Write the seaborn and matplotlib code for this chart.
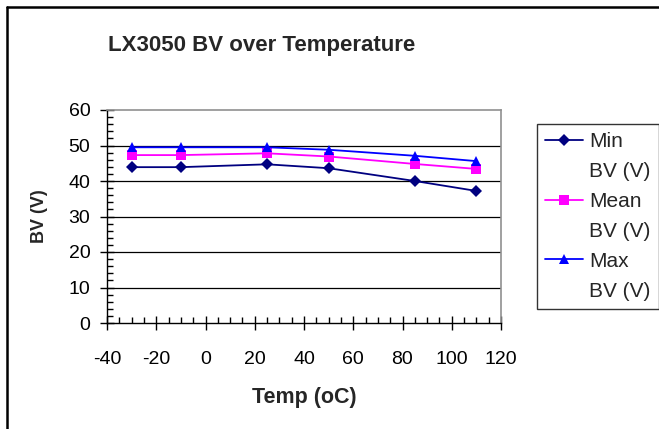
import matplotlib
matplotlib.use("Agg")
import matplotlib.pyplot as plt
import seaborn as sns
import pandas as pd
from matplotlib.lines import Line2D
from matplotlib.ticker import MultipleLocator

temps = [-30, -10, 25, 50, 85, 110]
min_bv = [43.9, 43.9, 44.7, 43.6, 40.0, 37.2]
mean_bv = [47.3, 47.3, 47.8, 46.9, 44.8, 43.4]
max_bv = [49.5, 49.5, 49.5, 48.8, 47.1, 45.6]
series_names = ["Min BV (V)", "Mean BV (V)", "Max BV (V)"]
colors = ["#000080", "#FF00FF", "#0000FF"]
markers = ["D", "s", "^"]

df = pd.concat([
    pd.DataFrame({"Temp": temps, "BV": vals, "Series": name})
    for name, vals in zip(series_names, [min_bv, mean_bv, max_bv])
])

sns.set_theme(style="white")
plt.rcParams["font.family"] = ["Liberation Sans", "DejaVu Sans"]
plt.rcParams["axes.unicode_minus"] = False

fig = plt.figure(figsize=(6.59, 4.29), dpi=100)
ax = fig.add_axes([107/659, 1 - 323/429, (501 - 107)/659, (323 - 110)/429])

sns.lineplot(data=df, x="Temp", y="BV", hue="Series", style="Series",
             palette=dict(zip(series_names, colors)),
             markers=dict(zip(series_names, markers)),
             dashes=False, ax=ax, linewidth=1.3, markersize=6.5,
             markeredgewidth=0, legend=False)

ax.set_xlim(-40, 120)
ax.set_ylim(0, 60)
ax.xaxis.set_major_locator(MultipleLocator(20))
ax.xaxis.set_minor_locator(MultipleLocator(5))
ax.yaxis.set_major_locator(MultipleLocator(10))
ax.yaxis.set_minor_locator(MultipleLocator(2))
ax.tick_params(axis="both", which="major", direction="inout", length=10,
               width=1, color="black", labelsize=14, labelcolor="black")
ax.tick_params(axis="x", which="major", pad=15)
ax.tick_params(axis="y", which="major", pad=7)
ax.tick_params(axis="both", which="minor", direction="in", length=4.5,
               width=1, color="black")
ax.tick_params(axis="x", which="both", bottom=True)
ax.tick_params(axis="y", which="both", left=True)
for v in range(10, 60, 10):
    ax.axhline(v, color="black", linewidth=0.9, zorder=0)

for side in ["left", "bottom"]:
    ax.spines[side].set_color("black")
    ax.spines[side].set_linewidth(1.0)
for side in ["top", "right"]:
    ax.spines[side].set_color("#909090")
    ax.spines[side].set_linewidth(1.2)

ax.set_xlabel("Temp (oC)", fontsize=15.5, fontweight="bold", labelpad=14)
ax.set_ylabel("BV (V)", fontsize=13, fontweight="bold", labelpad=15)

fig.text(0.5 * (110 + 413) / 659, 1 - 45/429, "LX3050 BV over Temperature",
         ha="center", va="center", fontsize=16, fontweight="bold")

# legend: each series label wraps onto two lines, handle on the first line
handles, labels = [], []
for c, m, name in zip(colors, markers, series_names):
    first, second = name.split(" ", 1)
    handles.append(Line2D([0], [0], color=c, marker=m, markersize=6.5,
                          linewidth=1.3, markeredgewidth=0))
    labels.append(first)
    handles.append(Line2D([0], [0], color="none", marker=None, linewidth=0))
    labels.append(second)
leg = fig.legend(handles, labels, loc="upper left",
                 bbox_to_anchor=(537/659, 1 - 124/429),
                 frameon=True, fontsize=15, handlelength=1.8,
                 handletextpad=0.3, borderpad=0.4, labelspacing=0.52,
                 borderaxespad=0, fancybox=False, edgecolor="black")
leg.get_frame().set_linewidth(1.0)

fig.add_artist(Line2D([7/659, 7/659], [0, 1 - 7/429], color="black",
                      linewidth=1.8, transform=fig.transFigure))
fig.add_artist(Line2D([7/659, 1], [1 - 7/429, 1 - 7/429], color="black",
                      linewidth=1.8, transform=fig.transFigure))

fig.savefig("out.png", dpi=100)
